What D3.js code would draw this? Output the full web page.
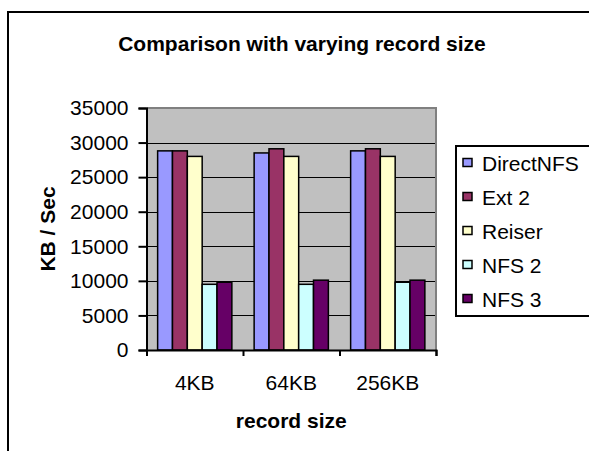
<!DOCTYPE html>
<html><head><meta charset="utf-8">
<script src="https://cdn.jsdelivr.net/npm/d3@7"></script>
<style>body{margin:0;background:#fff;overflow:hidden}svg{display:block}text{font-family:"Liberation Sans",Arial,sans-serif;fill:#000}</style>
</head><body><svg id="c" width="589" height="451"></svg>
<script>
const categories = ["4KB", "64KB", "256KB"];
const seriesNames = ["DirectNFS", "Ext 2", "Reiser", "NFS 2", "NFS 3"];
const directNFS = [28800, 28500, 28800];
const ext2 = [28800, 29100, 29100];
const reiser = [28000, 28000, 28000];
const nfs2 = [9500, 9500, 9800];
const nfs3 = [9800, 10100, 10100];
const yTicks = [0, 5000, 10000, 15000, 20000, 25000, 30000, 35000];
const colors = ["#9999FF", "#993366", "#FFFFCC", "#CCFFFF", "#660066"];
const series = [directNFS, ext2, reiser, nfs2, nfs3];

const svg = d3.select("#c");
// chart frame (only top and left visible)
svg.append("line").attr("x1", 8).attr("x2", 589).attr("y1", 12).attr("y2", 12).attr("stroke", "#000").attr("stroke-width", 2);
svg.append("line").attr("x1", 8).attr("x2", 8).attr("y1", 11).attr("y2", 451).attr("stroke", "#000").attr("stroke-width", 2);

svg.append("text").attr("x", 302).attr("y", 51).attr("text-anchor", "middle")
  .attr("font-weight", "bold").attr("font-size", 21).text("Comparison with varying record size");

const L = 146.5, R = 436, T = 108, B = 350;
const x0 = d3.scaleBand().domain(categories).range([L, R]).paddingInner(0).paddingOuter(0);
const y = d3.scaleLinear().domain([0, 35000]).range([B, T]);

svg.append("rect").attr("x", L).attr("y", T).attr("width", R - L).attr("height", B - T).attr("fill", "#C0C0C0");
// gridlines
svg.append("g").selectAll("line").data(yTicks.filter(d => d > 0 && d < 35000)).join("line")
  .attr("x1", L).attr("x2", R).attr("y1", d => Math.round(y(d)) + 0.5).attr("y2", d => Math.round(y(d)) + 0.5)
  .attr("stroke", "#000").attr("stroke-width", 1);
// plot border top/right gray
svg.append("path").attr("d", `M${L},${T}H${R}V${B}`).attr("fill", "none").attr("stroke", "#808080").attr("stroke-width", 2);

// bars
const bw = x0.bandwidth() / 6.5;
const inner = d3.scaleBand().domain(seriesNames).range([0, bw * 5]);
const g = svg.append("g");
series.forEach((vals, si) => {
  g.selectAll(null).data(vals).join("rect")
    .attr("x", (d, i) => x0(categories[i]) + bw * 0.75 + inner(seriesNames[si]))
    .attr("y", d => y(d))
    .attr("width", inner.bandwidth())
    .attr("height", d => B - y(d))
    .attr("fill", colors[si]).attr("stroke", "#000").attr("stroke-width", 1.5);
});

// y axis
const yAxis = d3.axisLeft(y).tickValues(yTicks).tickSize(8).tickPadding(10).tickFormat(d3.format("d"));
const ya = svg.append("g").attr("transform", `translate(${L},0)`).call(yAxis);
ya.select(".domain").attr("stroke", "#000").attr("stroke-width", 2);
ya.selectAll(".tick line").attr("stroke", "#000").attr("stroke-width", 2);
ya.selectAll(".tick text").attr("font-size", 21).attr("font-family", '"Liberation Sans",Arial,sans-serif').attr("fill", "#000");

// x axis
const xs = d3.scaleLinear().domain([0, 3]).range([L, R]);
const xa = svg.append("g").attr("transform", `translate(0,${B})`)
  .call(d3.axisBottom(xs).tickValues([0, 1, 2, 3]).tickSize(6).tickFormat(""));
xa.select(".domain").attr("stroke", "#000").attr("stroke-width", 2);
xa.selectAll(".tick line").attr("stroke", "#000").attr("stroke-width", 2);
svg.append("g").selectAll("text").data(categories).join("text")
  .attr("x", d => x0(d) + x0.bandwidth() / 2).attr("y", 390).attr("text-anchor", "middle")
  .attr("font-size", 21).text(d => d);

svg.append("text").attr("x", (L + R) / 2).attr("y", 428).attr("text-anchor", "middle")
  .attr("font-weight", "bold").attr("font-size", 21).text("record size");
svg.append("text").attr("transform", `translate(55,${(T + B) / 2}) rotate(-90)`).attr("text-anchor", "middle")
  .attr("font-weight", "bold").attr("font-size", 21).text("KB / Sec");

// legend
const lg = svg.append("g");
lg.append("path").attr("d", "M600,146H456V316H600").attr("fill", "#fff").attr("stroke", "#000").attr("stroke-width", 2);
const items = lg.selectAll("g.it").data(seriesNames).join("g").attr("class", "it")
  .attr("transform", (d, i) => `translate(0,${163 + i * 34})`);
items.append("rect").attr("x", 463).attr("y", -4.5).attr("width", 9).attr("height", 8)
  .attr("fill", (d, i) => colors[i]).attr("stroke", "#000").attr("stroke-width", 1.5);
items.append("text").attr("x", 482).attr("y", 7.5).attr("font-size", 21).text(d => d);
</script></body></html>
